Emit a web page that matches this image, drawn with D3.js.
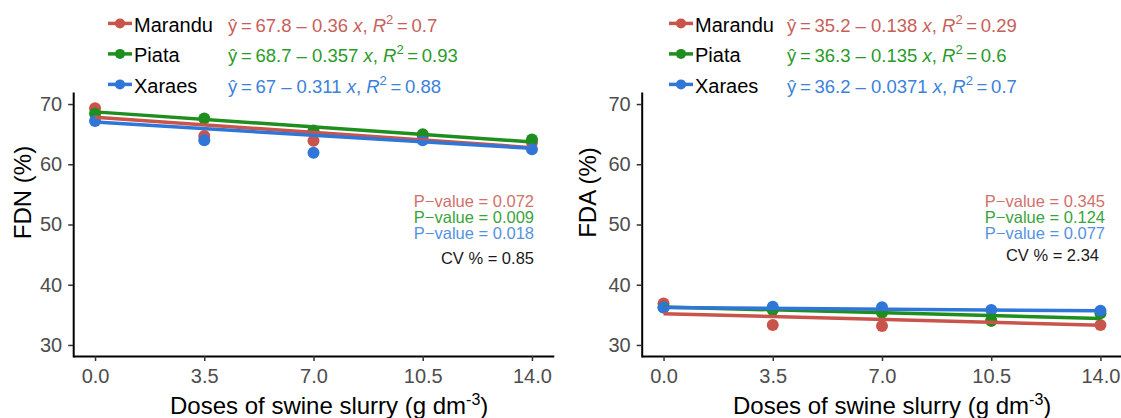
<!DOCTYPE html>
<html>
<head>
<meta charset="utf-8">
<script src="https://cdn.jsdelivr.net/npm/d3@7/dist/d3.min.js"></script>
<style>
  body { margin: 0; background: #fff; }
  text { font-family: "Liberation Sans", Arial, sans-serif; }
</style>
</head>
<body>
<svg id="chart" width="1121" height="418"></svg>
<script>
// doses on the x axis
var doses = [0, 3.5, 7, 10.5, 14];
var yTicks = [30, 40, 50, 60, 70];
var cultivars = ['Marandu', 'Piata', 'Xaraes'];

// FDN (%) means
var fdnMarandu = [69.3, 64.7, 63.9, 64.7, 63.6];
var fdnPiata = [68.4, 67.6, 65.6, 65.0, 64.1];
var fdnXaraes = [67.2, 64.0, 61.9, 64.0, 62.5];
var fdnIntercepts = [67.8, 68.7, 67];
var fdnSlopes = [-0.36, -0.357, -0.311];
var fdnR2 = ['0.7', '0.93', '0.88'];
var fdnPValues = ['0.072', '0.009', '0.018'];
var fdnCV = '0.85';

// FDA (%) means
var fdaMarandu = [36.9, 33.3, 33.15, 34.0, 33.3];
var fdaPiata = [36.2, 35.8, 35.35, 34.0, 35.25];
var fdaXaraes = [36.2, 36.35, 36.25, 35.8, 35.7];
var fdaIntercepts = [35.2, 36.3, 36.2];
var fdaSlopes = [-0.138, -0.135, -0.0371];
var fdaR2 = ['0.29', '0.6', '0.7'];
var fdaPValues = ['0.345', '0.124', '0.077'];
var fdaCV = '2.34';

var colors = ['#C9544C', '#1E8F1E', '#2F76D8'];
var eqColors = ['#C8605A', '#2A9A2A', '#3A82DA'];
var pColors = ['#D0716B', '#3AA33A', '#5592E0'];

var svg = d3.select('#chart');

function drawPanel(p) {
  var x = d3.scaleLinear().domain([-0.7, 14.7]).range([p.left, p.left + 480.6]);
  var y = d3.scaleLinear().domain([28, 72]).range([357, 92]);

  var g = svg.append('g');

  // axes
  var xAxis = g.append('g')
    .attr('transform', 'translate(0,356)')
    .call(d3.axisBottom(x).tickValues(doses).tickFormat(d3.format('.1f')).tickSize(5).tickSizeOuter(0).tickPadding(7.5));
  var yAxis = g.append('g')
    .attr('transform', 'translate(' + p.left + ',0)')
    .call(d3.axisLeft(y).tickValues(yTicks).tickSize(5).tickSizeOuter(0).tickPadding(6));

  [xAxis, yAxis].forEach(function(a) {
    a.select('.domain').attr('stroke', '#000').attr('stroke-width', 2);
    a.selectAll('.tick line').attr('stroke', '#333').attr('stroke-width', 1.5);
    a.selectAll('.tick text').attr('fill', '#4D4D4D').style('font-size', '20px')
      .style('font-family', '"Liberation Sans", Arial, sans-serif');
  });

  // points
  p.series.forEach(function(values, i) {
    g.selectAll('.pt' + i)
      .data(values)
      .enter().append('circle')
      .attr('cx', function(d, j) { return x(doses[j]); })
      .attr('cy', function(d) { return y(d); })
      .attr('r', 6)
      .attr('fill', colors[i]);
  });

  // fitted lines
  p.intercepts.forEach(function(b0, i) {
    var b1 = p.slopes[i];
    g.append('line')
      .attr('x1', x(0)).attr('y1', y(b0))
      .attr('x2', x(14)).attr('y2', y(b0 + b1 * 14))
      .attr('stroke', colors[i])
      .attr('stroke-width', 3.5);
  });

  // legend with equations
  cultivars.forEach(function(name, i) {
    var base = 31.7 + i * 30.5;
    g.append('line')
      .attr('x1', p.legendX).attr('x2', p.legendX + 24)
      .attr('y1', base - 8.3).attr('y2', base - 8.3)
      .attr('stroke', colors[i]).attr('stroke-width', 3.5);
    g.append('circle')
      .attr('cx', p.legendX + 12).attr('cy', base - 8.3)
      .attr('r', 5).attr('fill', colors[i]);
    g.append('text')
      .attr('x', p.legendX + 26).attr('y', base)
      .style('font-size', '20px')
      .text(name);

    var eq = g.append('text')
      .attr('x', p.eqX).attr('y', base)
      .attr('fill', eqColors[i])
      .style('font-size', '18.5px');
    eq.append('tspan').text('\u0177\u2009=\u2009' + p.intercepts[i] + ' \u2013 ' + Math.abs(p.slopes[i]) + ' ');
    eq.append('tspan').style('font-style', 'italic').text('x');
    eq.append('tspan').text(',  ');
    eq.append('tspan').style('font-style', 'italic').text('R');
    eq.append('tspan').attr('dy', -8).style('font-size', '13px').text('2');
    eq.append('tspan').attr('dy', 8).text('\u2009=\u2009' + p.r2[i]);
  });

  // p-values and CV
  p.pValues.forEach(function(v, i) {
    g.append('text')
      .attr('x', p.pRight).attr('y', 206.7 + i * 16.3)
      .attr('text-anchor', 'end')
      .attr('fill', pColors[i])
      .style('font-size', '16.5px')
      .text('P\u2212value = ' + v);
  });
  g.append('text')
    .attr('x', p.cvRight).attr('y', p.cvY)
    .attr('text-anchor', 'end')
    .attr('fill', '#1a1a1a')
    .style('font-size', '16.5px')
    .text('CV % = ' + p.cv);

  // axis titles
  var xt = g.append('text')
    .attr('x', p.xTitleX).attr('y', 414)
    .style('font-size', '24px');
  xt.append('tspan').text('Doses of swine slurry (g dm');
  xt.append('tspan').attr('dy', -9).style('font-size', '16px').text('-3');
  xt.append('tspan').attr('dy', 9).text(')');

  g.append('text')
    .attr('transform', 'translate(' + p.yTitleX + ',192.5) rotate(-90)')
    .attr('text-anchor', 'middle')
    .style('font-size', '24px')
    .text(p.yTitle);
}

drawPanel({
  left: 73.2,
  series: [fdnMarandu, fdnPiata, fdnXaraes],
  intercepts: fdnIntercepts, slopes: fdnSlopes, r2: fdnR2,
  pValues: fdnPValues, cv: fdnCV,
  legendX: 108, eqX: 228,
  pRight: 534, cvRight: 534, cvY: 264.3,
  xTitleX: 170, yTitleX: 30.7, yTitle: 'FDN (%)'
});

drawPanel({
  left: 641.7,
  series: [fdaMarandu, fdaPiata, fdaXaraes],
  intercepts: fdaIntercepts, slopes: fdaSlopes, r2: fdaR2,
  pValues: fdaPValues, cv: fdaCV,
  legendX: 669, eqX: 787,
  pRight: 1105, cvRight: 1099, cvY: 261,
  xTitleX: 733, yTitleX: 596, yTitle: 'FDA (%)'
});
</script>
</body>
</html>
